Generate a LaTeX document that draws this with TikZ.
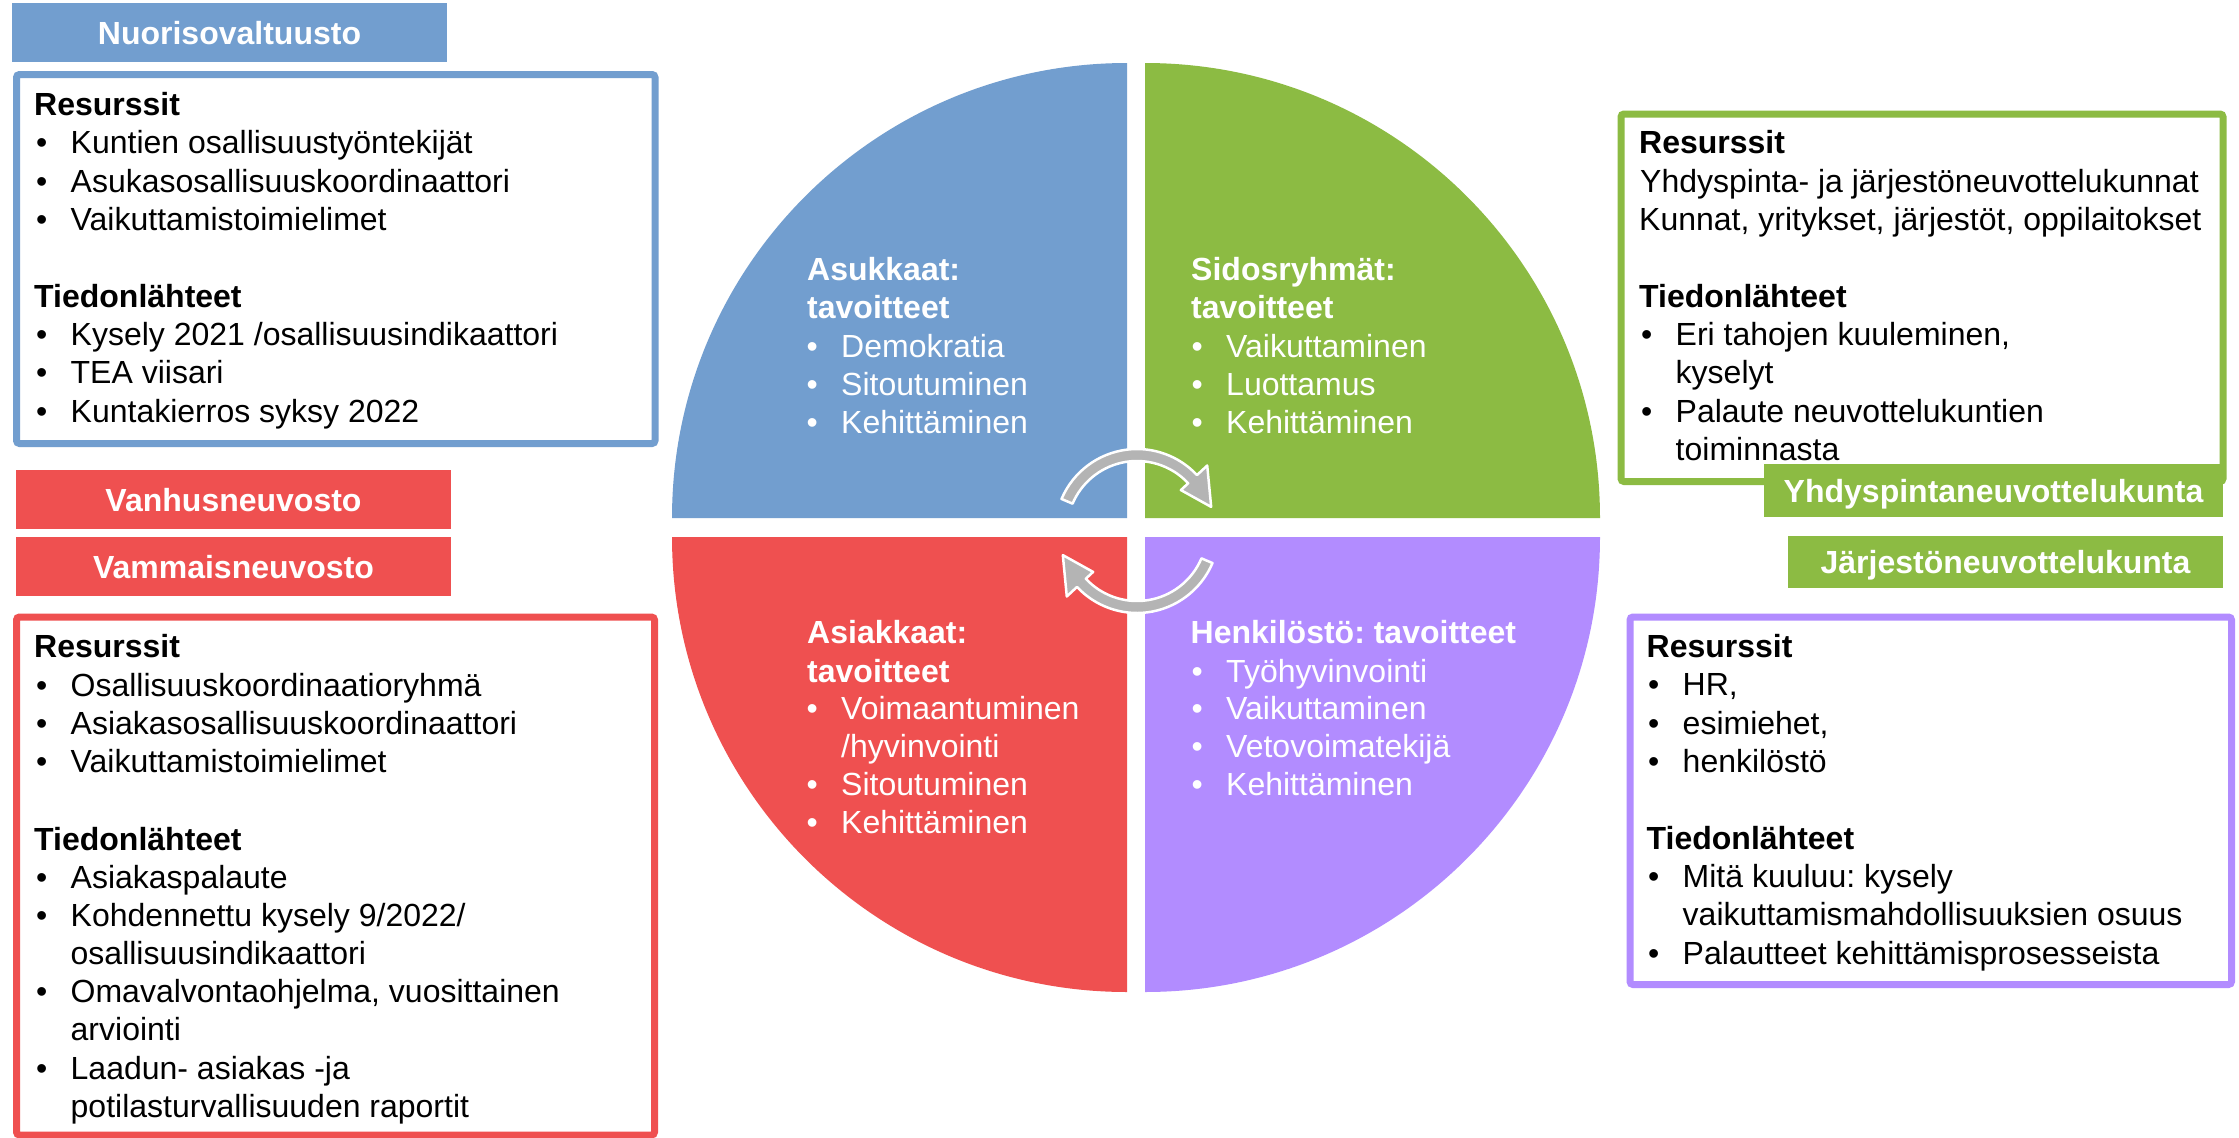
\documentclass[tikz,border=0pt]{standalone}
\usepackage{fontspec}
\setmainfont{Liberation Sans}
\usetikzlibrary{calc}
\definecolor{qblue}{RGB}{114,158,207}
\definecolor{qgreen}{RGB}{140,187,67}
\definecolor{qred}{RGB}{239,80,80}
\definecolor{qpurple}{RGB}{178,140,255}
\definecolor{agray}{RGB}{180,180,180}
\newcommand{\bul}[1]{\makebox[34.5pt][l]{\textbullet}#1}
\frenchspacing
\begin{document}
\begin{tikzpicture}[x=1pt,y=-1pt,
  ln/.style={anchor=base west, inner sep=0pt, font=\fontsize{32}{38}\selectfont},
  hd/.style={anchor=base west, inner sep=0pt, font=\fontsize{32}{38}\selectfont\bfseries},
  wln/.style={ln, text=white},
  whd/.style={hd, text=white},
  lab/.style={inner sep=0pt, font=\fontsize{32}{38}\selectfont\bfseries, text=white, text height=23pt, text depth=0pt},
  frame/.style={line width=7pt, rounded corners=3pt, fill=white},
  circarrow/.style={fill=agray, draw=white, line width=2.5pt, line join=round}]
\useasboundingbox (0,0) rectangle (2239,1138);
\fill[white] (0,0) rectangle (2239,1138);

% quadrants
\fill[qblue] (1127,518) -- ++(-455pt,0pt) arc[start angle=180, end angle=90, radius=455pt] -- cycle;
\fill[qgreen] (1145,518) -- ++(455pt,0pt) arc[start angle=0, end angle=90, radius=455pt] -- cycle;
\fill[qred] (1127,537) -- ++(-455pt,0pt) arc[start angle=180, end angle=270, radius=455pt] -- cycle;
\fill[qpurple] (1145,537) -- ++(455pt,0pt) arc[start angle=0, end angle=-90, radius=455pt] -- cycle;

% circular arrows
\coordinate (C) at (1137,531);
\filldraw[circarrow] ($(C)+(157:82pt)$) arc[start angle=157, end angle=43, radius=82pt]
  -- ($(C)+(43:96pt)$) -- ($(C)+(18:78pt)$) -- ($(C)+(43:60pt)$) -- ($(C)+(43:70pt)$)
  arc[start angle=43, end angle=157, radius=70pt] -- cycle;
\filldraw[circarrow] ($(C)+(337:82pt)$) arc[start angle=337, end angle=223, radius=82pt]
  -- ($(C)+(223:96pt)$) -- ($(C)+(198:78pt)$) -- ($(C)+(223:60pt)$) -- ($(C)+(223:70pt)$)
  arc[start angle=223, end angle=337, radius=70pt] -- cycle;

% quadrant texts
\node[whd] (qb1) at (807,280) {Asukkaat:};
\node[whd] (qb2) at (807,318) {tavoitteet};
\node[wln] (qb3) at (806.5,357) {\bul{Demokratia}};
\node[wln] (qb4) at (806.5,395) {\bul{Sitoutuminen}};
\node[wln] (qb5) at (806.5,433) {\bul{Kehittäminen}};

\node[whd] (qg1) at (1191,280) {Sidosryhmät:};
\node[whd] (qg2) at (1191,318) {tavoitteet};
\node[wln] (qg3) at (1191.5,357) {\bul{Vaikuttaminen}};
\node[wln] (qg4) at (1191.5,395) {\bul{Luottamus}};
\node[wln] (qg5) at (1191.5,433) {\bul{Kehittäminen}};

\node[whd] (qr1) at (807,643) {Asiakkaat:};
\node[whd] (qr2) at (807,682) {tavoitteet};
\node[wln] (qr3) at (806.5,719) {\bul{Voimaantuminen}};
\node[wln] (qr4) at (841,757) {/hyvinvointi};
\node[wln] (qr5) at (806.5,795) {\bul{Sitoutuminen}};
\node[wln] (qr6) at (806.5,833) {\bul{Kehittäminen}};

\node[whd] (qp1) at (1190.5,643) {Henkilöstö: tavoitteet};
\node[wln] (qp2) at (1191.5,682) {\bul{Työhyvinvointi}};
\node[wln] (qp3) at (1191.5,719) {\bul{Vaikuttaminen}};
\node[wln] (qp4) at (1191.5,757) {\bul{Vetovoimatekijä}};
\node[wln] (qp5) at (1191.5,795) {\bul{Kehittäminen}};

% frames
\draw[frame, draw=qblue] (16.5,74.5) rectangle (655,443.5);
\draw[frame, draw=qred] (16.5,617) rectangle (654.5,1135);
\draw[frame, draw=qgreen] (1621,114) rectangle (2223,481.5);
\draw[frame, draw=qpurple] (1630,617) rectangle (2231.5,984.5);

% labels
\node[lab, fill=qblue, minimum width=435pt, minimum height=59pt] (nuori) at (229.5,32.5) {Nuorisovaltuusto};
\node[lab, fill=qred, minimum width=435pt, minimum height=59pt] (vanhus) at (233.5,499.5) {Vanhusneuvosto};
\node[lab, fill=qred, minimum width=435pt, minimum height=59pt] (vammais) at (233.5,566.5) {Vammaisneuvosto};
\node[lab, fill=qgreen, minimum width=459pt, minimum height=53pt] (yhdys) at (1993.5,490.5) {Yhdyspintaneuvottelukunta};
\node[lab, fill=qgreen, minimum width=435pt, minimum height=52pt] (jarj) at (2005.5,562) {Järjestöneuvottelukunta};

% blue box text
\node[hd] (b1) at (34,115) {Resurssit};
\node[ln] (b2) at (36,153) {\bul{Kuntien osallisuustyöntekijät}};
\node[ln] (b3) at (36,192) {\bul{Asukasosallisuuskoordinaattori}};
\node[ln] (b4) at (36,230) {\bul{Vaikuttamistoimielimet}};
\node[hd] (b5) at (34,307) {Tiedonlähteet};
\node[ln] (b6) at (36,345) {\bul{Kysely 2021 /osallisuusindikaattori}};
\node[ln] (b7) at (36,383) {\bul{TEA viisari}};
\node[ln] (b8) at (36,422) {\bul{Kuntakierros syksy 2022}};

% red box text
\node[hd] (r1) at (34,657) {Resurssit};
\node[ln] (r2) at (36,696) {\bul{Osallisuuskoordinaatioryhmä}};
\node[ln] (r3) at (36,734) {\bul{Asiakasosallisuuskoordinaattori}};
\node[ln] (r4) at (36,772) {\bul{Vaikuttamistoimielimet}};
\node[hd] (r5) at (34,850) {Tiedonlähteet};
\node[ln] (r6) at (36,888) {\bul{Asiakaspalaute}};
\node[ln] (r7) at (36,926) {\bul{Kohdennettu kysely 9/2022/}};
\node[ln] (r8) at (70.5,964) {osallisuusindikaattori};
\node[ln] (r9) at (36,1002) {\bul{Omavalvontaohjelma, vuosittainen}};
\node[ln] (r10) at (70.5,1040) {arviointi};
\node[ln] (r11) at (36,1079) {\bul{Laadun- asiakas -ja}};
\node[ln] (r12) at (70.5,1117) {potilasturvallisuuden raportit};

% green box text
\node[hd] (g1) at (1639,153) {Resurssit};
\node[ln] (g2) at (1640,192) {Yhdyspinta- ja järjestöneuvottelukunnat};
\node[ln] (g3) at (1639,230) {Kunnat, yritykset, järjestöt, oppilaitokset};
\node[hd] (g4) at (1639,307) {Tiedonlähteet};
\node[ln] (g5) at (1641,345) {\bul{Eri tahojen kuuleminen,}};
\node[ln] (g6) at (1675.5,383) {kyselyt};
\node[ln] (g7) at (1641,422) {\bul{Palaute neuvottelukuntien}};
\node[ln] (g8) at (1675.5,460) {toiminnasta};

% purple box text
\node[hd] (p1) at (1646.5,657) {Resurssit};
\node[ln] (p2) at (1648,695.5) {\bul{HR,}};
\node[ln] (p3) at (1648,734) {\bul{esimiehet,}};
\node[ln] (p4) at (1648,772) {\bul{henkilöstö}};
\node[hd] (p5) at (1646.5,849) {Tiedonlähteet};
\node[ln] (p6) at (1648,887) {\bul{Mitä kuuluu: kysely}};
\node[ln] (p7) at (1682.5,925) {vaikuttamismahdollisuuksien osuus};
\node[ln] (p8) at (1648,964) {\bul{Palautteet kehittämisprosesseista}};
\end{tikzpicture}
\end{document}
